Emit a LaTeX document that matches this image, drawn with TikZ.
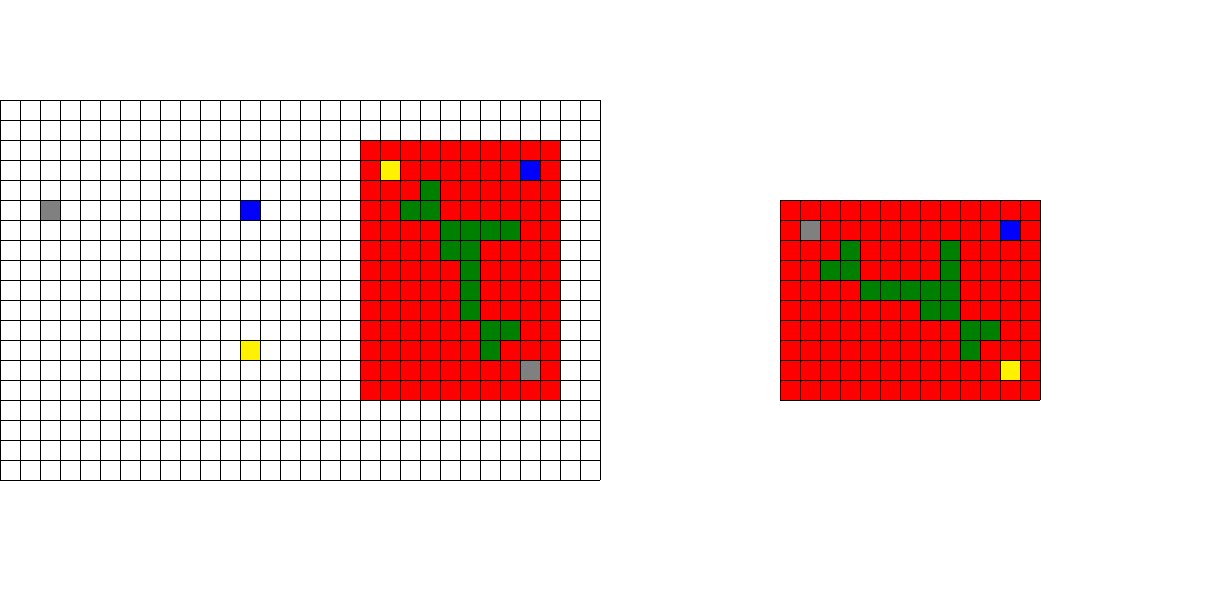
\documentclass[tikz,border=0pt]{standalone}
\usepackage{xcolor}
\usepackage{tikz}

\definecolor{cellgreen}{RGB}{0,128,0}
\definecolor{cellgray}{RGB}{128,128,128}

\begin{document}
\begin{tikzpicture}[
  x=0.5cm, y=-0.5cm,
  gridln/.style={draw=black, line width=0.6pt},
  wall/.style={fill=red},
  path/.style={fill=cellgreen},
  start/.style={fill=yellow},
  goal/.style={fill=blue},
  hole/.style={fill=cellgray},
]
\useasboundingbox (0,0) rectangle (61,30);

% left board, 30 x 19 cells
\begin{scope}[shift={(0,5)}]
\fill[hole]  (2,5) rectangle ++(1,1);
\fill[goal]  (12,5) rectangle ++(1,1);
\fill[start] (12,12) rectangle ++(1,1);
% red block, 10 x 13
\begin{scope}[shift={(18,2)}]
\fill[wall] (0,0) rectangle (10,13);
\fill[start] (1,1) rectangle ++(1,1);
\fill[goal]  (8,1) rectangle ++(1,1);
\fill[hole]  (8,11) rectangle ++(1,1);
\foreach \c/\r in {3/2, 2/3, 3/3, 4/4, 5/4, 6/4, 7/4, 4/5, 5/5,
                   5/6, 5/7, 5/8, 6/9, 7/9, 6/10}
  \fill[path] (\c,\r) rectangle ++(1,1);
\end{scope}
\foreach \i in {0,...,30} \draw[gridln] (\i,0) -- (\i,19);
\foreach \j in {0,...,19} \draw[gridln] (0,\j) -- (30,\j);
\end{scope}

% right board, 13 x 10 cells
\begin{scope}[shift={(39,10)}]
\fill[wall] (0,0) rectangle (13,10);
\fill[hole]  (1,1) rectangle ++(1,1);
\fill[goal]  (11,1) rectangle ++(1,1);
\fill[start] (11,8) rectangle ++(1,1);
\foreach \c/\r in {3/2, 8/2, 2/3, 3/3, 8/3, 4/4, 5/4, 6/4, 7/4, 8/4,
                   7/5, 8/5, 9/6, 10/6, 9/7}
  \fill[path] (\c,\r) rectangle ++(1,1);
\foreach \i in {0,...,13} \draw[gridln] (\i,0) -- (\i,10);
\foreach \j in {0,...,10} \draw[gridln] (0,\j) -- (13,\j);
\end{scope}
\end{tikzpicture}
\end{document}
